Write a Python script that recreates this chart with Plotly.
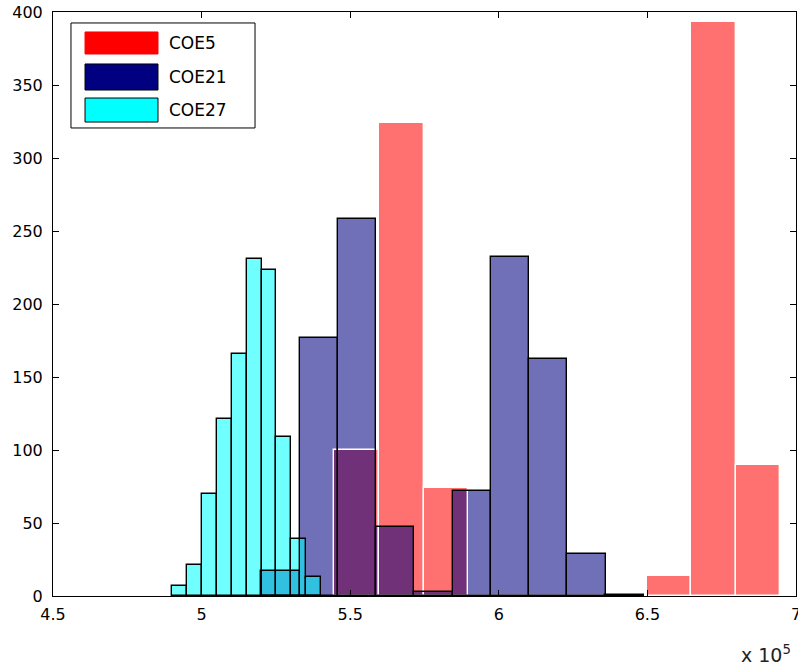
import plotly.graph_objects as go

# histogrammes superposés (valeurs en x 10^5)
series_names = ["COE5", "COE21", "COE27"]

coe5_left = [5.447, 5.597, 5.747, 5.897, 6.047, 6.197, 6.347, 6.497, 6.647, 6.797]
coe5_width = 0.150
coe5_counts = [100, 324, 74, 0, 0, 0, 0, 14, 393, 90]

coe21_left = [5.201, 5.330, 5.458, 5.587, 5.716, 5.845, 5.973, 6.102, 6.231, 6.359]
coe21_width = 0.1287
coe21_counts = [17, 177, 258, 47, 3, 72, 232, 162, 29, 1]

coe27_left = [4.902, 4.952, 5.002, 5.052, 5.102, 5.152, 5.202, 5.252, 5.302, 5.352]
coe27_width = 0.050
coe27_counts = [7, 21, 70, 121, 166, 231, 223, 109, 39, 13]

x_ticks = [4.5, 5, 5.5, 6, 6.5, 7]
x_tick_labels = ["4.5", "5", "5.5", "6", "6.5", "7"]
y_ticks = [0, 50, 100, 150, 200, 250, 300, 350, 400]

ALPHA = 0.56
series = [
    (coe5_left, coe5_width, coe5_counts, (255, 0, 0), "white"),
    (coe21_left, coe21_width, coe21_counts, (0, 0, 128), "black"),
    (coe27_left, coe27_width, coe27_counts, (0, 255, 255), "black"),
]

fig = go.Figure()

# remplissages transparents
for left, width, counts, rgb, edge in series:
    fig.add_trace(go.Bar(
        x=left, y=counts, width=width, offset=0,
        marker=dict(color=f"rgba({rgb[0]},{rgb[1]},{rgb[2]},{ALPHA})",
                    line=dict(width=0)),
        showlegend=False, hoverinfo="skip",
    ))

# contours opaques par-dessus (comme le rendu MATLAB)
for left, width, counts, rgb, edge in series:
    fig.add_trace(go.Bar(
        x=left, y=counts, width=width, offset=0,
        marker=dict(color="rgba(0,0,0,0)", line=dict(color=edge, width=1.4)),
        showlegend=False, hoverinfo="skip",
    ))

# légende style MATLAB (boîte + rectangles larges)
shapes = [dict(type="rect", xref="paper", yref="paper",
               x0=0.0242, x1=0.2719, y0=0.8014, y1=0.9812,
               line=dict(color="black", width=1), fillcolor="white", layer="above")]
patch_y = [(0.9281, 0.9658), (0.8664, 0.9110), (0.8116, 0.8527)]
text_y = [0.9469, 0.8887, 0.8322]
patch_edges = ["#ff0000", "black", "black"]
annotations = []
for i, name in enumerate(series_names):
    rgb = series[i][3]
    shapes.append(dict(type="rect", xref="paper", yref="paper",
                       x0=0.0431, x1=0.1413, y0=patch_y[i][0], y1=patch_y[i][1],
                       fillcolor=f"rgb({rgb[0]},{rgb[1]},{rgb[2]})",
                       line=dict(color=patch_edges[i], width=1), layer="above"))
    annotations.append(dict(text=name, xref="paper", yref="paper",
                            x=0.1534, y=text_y[i], xanchor="left", yanchor="middle",
                            showarrow=False, font=dict(size=17, color="black")))

annotations.append(dict(text="x 10<sup>5</sup>", xref="paper", yref="paper",
                        x=1.0, y=0, xanchor="right", yanchor="top",
                        xshift=-3, yshift=-44,
                        showarrow=False, font=dict(size=19, color="#222")))

fig.update_layout(
    width=798, height=672,
    margin=dict(l=53, r=2, t=12, b=76),
    paper_bgcolor="white", plot_bgcolor="white",
    barmode="overlay", bargap=0,
    font=dict(family="DejaVu Sans", size=16, color="black"),
    showlegend=False,
    shapes=shapes, annotations=annotations,
    xaxis=dict(range=[4.5, 7], tickvals=x_ticks, ticktext=x_tick_labels,
               ticks="inside", ticklen=6, tickcolor="black", mirror="allticks",
               showline=True, linecolor="black", linewidth=1,
               showgrid=False, zeroline=False, automargin=False,
               ticklabeloverflow="allow", ticklabelstandoff=4),
    yaxis=dict(range=[0, 400], tickvals=y_ticks,
               ticks="inside", ticklen=6, tickcolor="black", mirror="allticks",
               showline=True, linecolor="black", linewidth=1,
               showgrid=False, zeroline=False, automargin=False,
               ticklabelstandoff=6),
)

# sans la marge de 8 px du <body>, la figure occupe toute la fenêtre
fig.write_html("out.html", config={"displayModeBar": False},
               post_script="document.body.style.margin='0px';")
